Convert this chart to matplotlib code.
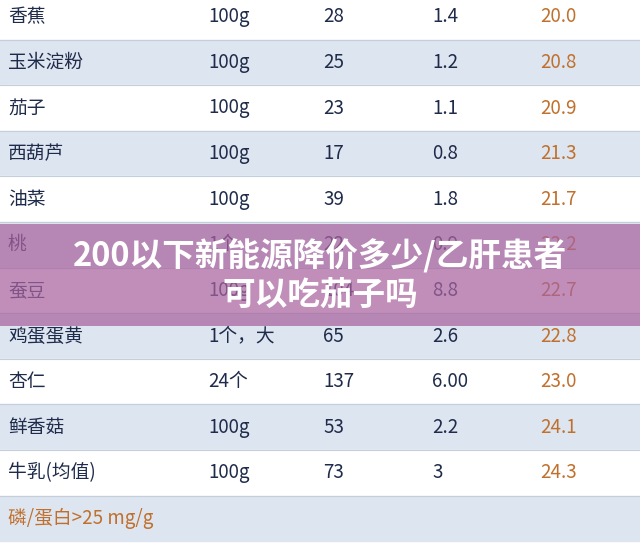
import matplotlib.pyplot as plt
from matplotlib.patches import Rectangle

plt.rcParams['font.family'] = ['Noto Sans CJK SC', 'DejaVu Sans']

foods = ['香蕉', '玉米淀粉', '茄子', '西葫芦', '油菜', '桃', '蚕豆', '鸡蛋蛋黄', '杏仁', '鲜香菇', '牛乳(均值)']
amounts = ['100g', '100g', '100g', '100g', '100g', '1个', '100g', '1个，大', '24个', '100g', '100g']
energy = ['28', '25', '23', '17', '39', '22', '104', '65', '137', '53', '73']
protein = ['1.4', '1.2', '1.1', '0.8', '1.8', '0.9', '8.8', '2.6', '6.00', '2.2', '3']
ratio = ['20.0', '20.8', '20.9', '21.3', '21.7', '22.2', '22.7', '22.8', '23.0', '24.1', '24.3']
footer = '磷/蛋白>25 mg/g'
title = '200以下新能源降价多少/乙肝患者\n可以吃茄子吗'

W, H = 640, 553
fig = plt.figure(figsize=(W / 100, H / 100), dpi=100)
ax = fig.add_axes([0, 0, 1, 1])
ax.set_xlim(0, W)
ax.set_ylim(H, 0)
ax.axis('off')

row_h = 45.6
y0 = -6
navy = '#1e2b4a'
kw = dict(fontsize=13.5, fontweight='medium', va='center', zorder=2)
for i in range(len(foods) + 1):
    top = y0 + i * row_h
    ax.add_patch(Rectangle((0, top), W, row_h, color='#ffffff' if i % 2 == 0 else '#dde5f0', zorder=0))
    ax.plot([0, W], [top, top], color='#c5cfdc', lw=0.8, zorder=1)
for i in range(len(foods)):
    yc = y0 + (i + 0.5) * row_h
    ax.text(8, yc, foods[i], color=navy, **kw)
    ax.text(208, yc, amounts[i], color=navy, **kw)
    ax.text(323, yc, energy[i], color=navy, **kw)
    ax.text(432, yc, protein[i], color=navy, **kw)
    ax.text(540, yc, ratio[i], color='#c0702c', **kw)
yf = y0 + (len(foods) + 0.5) * row_h
ax.text(8, yf, footer, color='#c0702c', **kw)

ax.add_patch(Rectangle((0, 224), W, 102, color='#a8639e', alpha=0.72, zorder=3, lw=0))
ax.text(W / 2, 275, title, color='white', fontsize=23.5, fontweight='bold',
        ha='center', va='center', linespacing=1.2, zorder=4)

fig.savefig('out.png', dpi=100)
